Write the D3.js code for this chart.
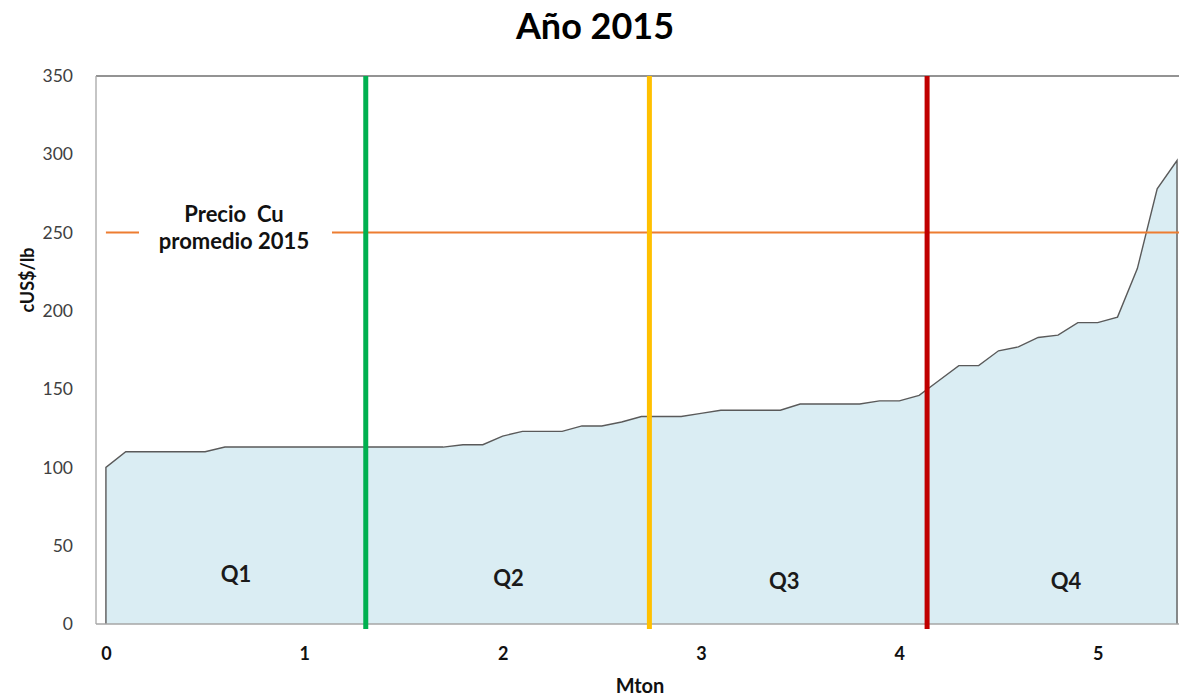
<!DOCTYPE html>
<html>
<head>
<meta charset="utf-8">
<script src="https://cdn.jsdelivr.net/npm/d3@7"></script>
<style>
  html, body { margin: 0; padding: 0; background: #ffffff; }
  svg { display: block; font-family: Lato, "Open Sans", "Noto Sans", sans-serif; }
</style>
</head>
<body>
<svg id="chart" width="1180" height="698"></svg>
<script>
// Cumulative production (Mton) and cash cost (cUS$/lb)
const mton = [0.0, 0.1, 0.2, 0.3, 0.4, 0.5, 0.6, 0.7, 0.8, 0.9, 1.0, 1.1, 1.2, 1.3, 1.4, 1.5, 1.6, 1.7,
  1.8, 1.9, 2.0, 2.1, 2.2, 2.3, 2.4, 2.5, 2.6, 2.7, 2.8, 2.9, 3.0, 3.1, 3.2, 3.3, 3.4, 3.5, 3.6, 3.7,
  3.8, 3.9, 4.0, 4.1, 4.2, 4.3, 4.4, 4.5, 4.6, 4.7, 4.8, 4.9, 5.0, 5.1, 5.2, 5.3, 5.4];
const cost = [100, 110, 110, 110, 110, 110, 113, 113, 113, 113, 113, 113, 113, 113, 113, 113, 113, 113,
  114.5, 114.5, 120, 123, 123, 123, 126.5, 126.5, 129, 132.5, 132.5, 132.5, 134.5, 136.5, 136.5, 136.5, 136.5, 140.5, 140.5, 140.5,
  140.5, 142.5, 142.5, 146, 155.5, 165, 165, 174.5, 177, 183, 184.5, 192.5, 192.5, 196, 227, 278, 296];

// Average copper price and quartile boundaries
const cuPrice = 250;
const quartileNames = ["Q1", "Q2", "Q3", "Q4"];
const quartileLabelX = [0.656, 2.03, 3.42, 4.84];
const quartileLabelY = [30.5, 28, 26, 26];
const quartileBreaks = [1.31, 2.74, 4.14];
const breakColors = ["#00b050", "#ffc000", "#c00000"];

const xTicks = [0, 1, 2, 3, 4, 5];
const yTicks = [0, 50, 100, 150, 200, 250, 300, 350];

const svg = d3.select("#chart");
const plotLeft = 96, plotRight = 1179, plotTop = 76, plotBottom = 624;

const x = d3.scaleLinear().domain([-0.05, 5.41]).range([plotLeft, plotRight]);
const y = d3.scaleLinear().domain([0, 350]).range([plotBottom, plotTop]);

// Title
svg.append("text")
  .attr("x", 595).attr("y", 39)
  .attr("text-anchor", "middle")
  .attr("font-size", 36).attr("font-weight", "bold")
  .attr("fill", "#000")
  .text("Año 2015");

// Plot frame (top and left edges)
svg.append("line").attr("x1", plotLeft).attr("x2", plotRight).attr("y1", plotTop).attr("y2", plotTop)
  .attr("stroke", "#6f6f6f").attr("stroke-width", 1.3);
svg.append("line").attr("x1", plotLeft).attr("x2", plotLeft).attr("y1", plotTop).attr("y2", plotBottom)
  .attr("stroke", "#a6a6a6").attr("stroke-width", 1.3);

// Cost curve area
const pts = mton.map((m, i) => [m, cost[i]]);
const area = d3.area()
  .x(d => x(d[0]))
  .y0(y(0))
  .y1(d => y(d[1]));
svg.append("path")
  .datum(pts)
  .attr("d", area)
  .attr("fill", "#daedf3");

// Outline: up the left edge, along the curve, down the right edge
const outline = [[mton[0], 0], ...pts, [mton[mton.length - 1], 0]];
svg.append("path")
  .datum(outline)
  .attr("d", d3.line().x(d => x(d[0])).y(d => y(d[1])))
  .attr("fill", "none")
  .attr("stroke", "#5a5a5a")
  .attr("stroke-width", 1.4);

// X axis baseline
svg.append("line").attr("x1", plotLeft).attr("x2", plotRight).attr("y1", plotBottom).attr("y2", plotBottom)
  .attr("stroke", "#a6a6a6").attr("stroke-width", 1.5);

// Average price line, broken around its label
svg.append("line")
  .attr("x1", x(0)).attr("x2", 139)
  .attr("y1", y(cuPrice)).attr("y2", y(cuPrice))
  .attr("stroke", "#ed7d31").attr("stroke-width", 2);
svg.append("line")
  .attr("x1", 332).attr("x2", plotRight)
  .attr("y1", y(cuPrice)).attr("y2", y(cuPrice))
  .attr("stroke", "#ed7d31").attr("stroke-width", 2);

const priceLabel = svg.append("text")
  .attr("text-anchor", "middle")
  .attr("font-size", 22).attr("font-weight", "bold").attr("fill", "#111")
  .attr("xml:space", "preserve");
priceLabel.append("tspan").attr("x", 234).attr("y", 222).text("Precio  Cu");
priceLabel.append("tspan").attr("x", 234).attr("y", 249).text("promedio 2015");

// Quartile boundaries
svg.selectAll("line.qbreak")
  .data(quartileBreaks)
  .join("line")
  .attr("class", "qbreak")
  .attr("x1", d => x(d)).attr("x2", d => x(d))
  .attr("y1", plotTop).attr("y2", plotBottom + 5)
  .attr("stroke", (d, i) => breakColors[i])
  .attr("stroke-width", 5);

// Quartile labels
svg.selectAll("text.qlabel")
  .data(quartileNames)
  .join("text")
  .attr("class", "qlabel")
  .attr("x", (d, i) => x(quartileLabelX[i]))
  .attr("y", (d, i) => y(quartileLabelY[i]))
  .attr("text-anchor", "middle")
  .attr("dominant-baseline", "middle")
  .attr("font-size", 22).attr("font-weight", "bold").attr("fill", "#1a1a1a")
  .text(d => d);

// Y axis labels
const yAxis = d3.axisLeft(y).tickValues(yTicks).tickSize(0).tickPadding(0);
const gy = svg.append("g").attr("transform", `translate(${plotLeft - 23},0)`).call(yAxis);
gy.select(".domain").remove();
gy.selectAll("text")
  .attr("font-family", "Lato, 'Open Sans', sans-serif")
  .attr("font-size", 17.5).attr("fill", "#404040");

// X axis labels
const xAxis = d3.axisBottom(x).tickValues(xTicks).tickSize(0).tickPadding(0).tickFormat(d3.format("d"));
const gx = svg.append("g").attr("transform", `translate(0,${plotBottom + 23})`).call(xAxis);
gx.select(".domain").remove();
gx.selectAll("text")
  .attr("font-family", "Lato, 'Open Sans', sans-serif")
  .attr("font-size", 18).attr("font-weight", "bold").attr("fill", "#111");

// Axis titles
svg.append("text")
  .attr("x", 640).attr("y", 693)
  .attr("text-anchor", "middle")
  .attr("font-size", 20).attr("font-weight", "bold").attr("fill", "#111")
  .text("Mton");

svg.append("text")
  .attr("transform", "translate(34,280) rotate(-90)")
  .attr("text-anchor", "middle")
  .attr("font-size", 18).attr("font-weight", "bold").attr("fill", "#111")
  .text("cUS$/lb");
</script>
</body>
</html>
